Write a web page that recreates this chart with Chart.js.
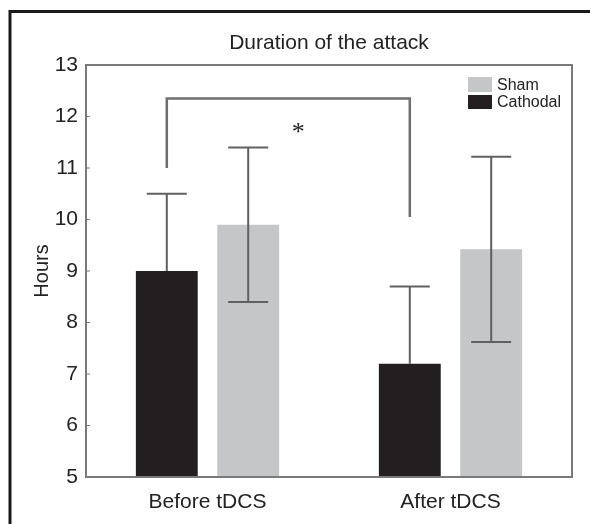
<!DOCTYPE html>
<html>
<head>
<meta charset="utf-8">
<script src="https://cdn.jsdelivr.net/npm/chart.js@4.4.1/dist/chart.umd.min.js"></script>
<style>
  html, body { margin: 0; padding: 0; background: #fff; }
  #wrap { width: 590px; height: 524px; position: relative; }
</style>
</head>
<body>
<div id="wrap"><canvas id="chart" width="590" height="524"></canvas></div>
<script>
// values
const categories = ['Before tDCS', 'After tDCS'];
const cathodalMeans = [9.0, 7.2];
const cathodalErrors = [1.5, 1.5];
const shamMeans = [9.9, 9.42];
const shamErrors = [1.5, 1.8];
const yMin = 5, yMax = 13, yStep = 1;
const chartTitle = 'Duration of the attack';
const yTitle = 'Hours';
// significance bracket: Before/Cathodal -> After/Cathodal
const bracketStart = 11.0;
const bracketTop = 12.35;
const bracketEnd = 10.05;
const bracketMarkY = 11.8;

const BLACK = '#231f20', GREY = '#c5c6c8', LINE = '#606060', AXIS = '#7a7a7a';
const FONT = '"Liberation Sans", Arial, sans-serif';

const extras = {
  id: 'extras',
  beforeDraw(chart) {
    const c = chart.ctx;
    c.save();
    // outer figure frame (left + top edges only)
    c.strokeStyle = '#1a1a1a';
    c.lineWidth = 3;
    c.beginPath();
    c.moveTo(10, 524); c.lineTo(10, 11.5); c.lineTo(590, 11.5);
    c.stroke();
    c.restore();
  },
  afterDatasetsDraw(chart) {
    const c = chart.ctx, a = chart.chartArea;
    const y = chart.scales.y;
    c.save();
    // error bars
    const sets = [
      { idx: 0, means: cathodalMeans, errs: cathodalErrors, lower: false },
      { idx: 1, means: shamMeans, errs: shamErrors, lower: true }
    ];
    c.strokeStyle = LINE;
    c.lineWidth = 2;
    sets.forEach(s => {
      chart.getDatasetMeta(s.idx).data.forEach((bar, i) => {
        const x = bar.x;
        const top = y.getPixelForValue(s.means[i] + s.errs[i]);
        const bot = s.lower ? y.getPixelForValue(s.means[i] - s.errs[i]) : y.getPixelForValue(s.means[i]);
        c.beginPath();
        c.moveTo(x, top); c.lineTo(x, bot);
        c.moveTo(x - 20, top); c.lineTo(x + 20, top);
        if (s.lower) { c.moveTo(x - 20, bot); c.lineTo(x + 20, bot); }
        c.stroke();
      });
    });
    // bracket
    const m = chart.getDatasetMeta(0).data;
    const x1 = m[0].x, x2 = m[1].x;
    c.strokeStyle = '#6e6e6e';
    c.lineWidth = 2.5;
    c.beginPath();
    c.moveTo(x1, y.getPixelForValue(bracketStart));
    c.lineTo(x1, y.getPixelForValue(bracketTop));
    c.lineTo(x2, y.getPixelForValue(bracketTop));
    c.lineTo(x2, y.getPixelForValue(bracketEnd));
    c.stroke();
    c.fillStyle = '#222';
    c.font = '26px "Liberation Serif", serif';
    c.textAlign = 'center';
    c.textBaseline = 'middle';
    c.fillText('*', (x1 + x2) / 2 + 10, y.getPixelForValue(bracketMarkY) + 6);

    // plot frame and inward ticks
    c.strokeStyle = AXIS;
    c.lineWidth = 2;
    c.strokeRect(a.left, a.top, a.right - a.left, a.bottom - a.top);
    c.lineWidth = 1;
    y.ticks.forEach(t => {
      const py = y.getPixelForValue(t.value);
      c.beginPath(); c.moveTo(a.left, py); c.lineTo(a.left + 4, py); c.stroke();
    });

    // title
    c.fillStyle = '#222';
    c.font = '21px ' + FONT;
    c.textAlign = 'center';
    c.textBaseline = 'middle';
    c.fillText(chartTitle, (a.left + a.right) / 2, 43);

    // legend (Sham first, as in the figure)
    const entries = [chart.data.datasets[1], chart.data.datasets[0]];
    const boxes = [[77, 15], [95, 14]];
    c.font = '16px ' + FONT;
    c.textAlign = 'left';
    entries.forEach((ds, i) => {
      c.fillStyle = ds.backgroundColor;
      c.fillRect(468, boxes[i][0], 24, boxes[i][1]);
      c.fillStyle = '#222';
      c.fillText(ds.label, 497, boxes[i][0] + boxes[i][1] / 2 + 1);
    });
    c.restore();
  }
};

new Chart(document.getElementById('chart').getContext('2d'), {
  type: 'bar',
  data: {
    labels: categories,
    datasets: [
      { label: 'Cathodal', data: cathodalMeans, backgroundColor: BLACK },
      { label: 'Sham', data: shamMeans, backgroundColor: GREY }
    ]
  },
  options: {
    responsive: false,
    animation: false,
    devicePixelRatio: 1,
    layout: { padding: { top: 65, right: 18, left: 0, bottom: 0 } },
    datasets: { bar: { barPercentage: 0.76, categoryPercentage: 0.67 } },
    plugins: { legend: { display: false }, title: { display: false }, tooltip: { enabled: false } },
    scales: {
      x: {
        grid: { display: false, drawTicks: false },
        border: { display: false },
        ticks: { color: '#222', font: { family: FONT, size: 21 }, padding: 13 },
        afterFit: s => { s.height = 47; }
      },
      y: {
        min: yMin, max: yMax,
        grid: { display: false, drawTicks: false },
        border: { display: false },
        ticks: { stepSize: yStep, color: '#222', font: { family: FONT, size: 21 }, padding: 8 },
        title: { display: true, text: yTitle, color: '#222', font: { family: FONT, size: 20 }, padding: { top: 30, bottom: 0 } },
        afterFit: s => { s.width = 86; }
      }
    }
  },
  plugins: [extras]
});
</script>
</body>
</html>
